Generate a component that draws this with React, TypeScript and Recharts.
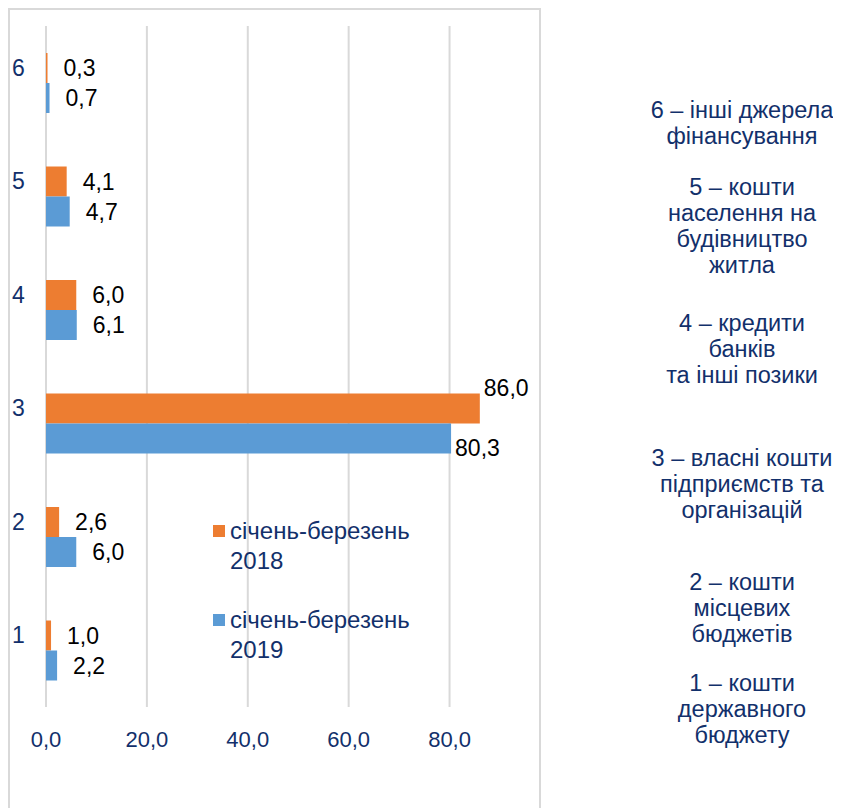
import React from 'react';
import { BarChart, Bar, XAxis, YAxis, CartesianGrid, LabelList } from 'recharts';

const categories = ['1', '2', '3', '4', '5', '6'];
const values2018 = [1.0, 2.6, 86.0, 6.0, 4.1, 0.3];
const values2019 = [2.2, 6.0, 80.3, 6.1, 4.7, 0.7];
const seriesNames = ['січень-березень 2018', 'січень-березень 2019'];
const xTicks = [0, 20, 40, 60, 80];
const descriptions = [
  ['6 – інші джерела', 'фінансування'],
  ['5 – кошти', 'населення на', 'будівництво', 'житла'],
  ['4 – кредити', 'банків', 'та інші позики'],
  ['3 – власні кошти', 'підприємств та', 'організацій'],
  ['2 – кошти', 'місцевих', 'бюджетів'],
  ['1 – кошти', 'державного', 'бюджету'],
];

const descTops = [89, 166, 302, 437, 561, 662];
const legendTops = [508, 597];

const NAVY = '#12306b';
const ORANGE = '#ED7D31';
const BLUE = '#5B9BD5';
const FONT = '"Liberation Sans", Arial, sans-serif';
const X_MAX = 90;

const data = categories.map((c, i) => ({
  cat: c,
  y2018: values2018[i],
  y2019: values2019[i],
}));

const fmt = (v: number) => v.toFixed(1).replace('.', ',');

const makeLabel = (series: 'a' | 'b') => (props: any) => {
  const { x, y, width, height, value } = props;
  const end = x + width;
  const cy = y + height / 2;
  let lx = end + 16;
  let ly = cy;
  if (value > 50) {
    lx = end + 4;
    ly = series === 'a' ? y - 6 : cy + 9;
  }
  return (
    <text x={lx} y={ly} fontSize={23} fill="#000" fontFamily={FONT} dominantBaseline="central" textAnchor="start">
      {fmt(value)}
    </text>
  );
};

const YTick = (props: any) => {
  const { y, payload } = props;
  return (
    <text x={4} y={y - 15} fontSize={23} fill={NAVY} fontFamily={FONT} dominantBaseline="central" textAnchor="start">
      {payload.value}
    </text>
  );
};

const gridGen = (args: any) => {
  const { offset } = args;
  return xTicks.map((t) => offset.left + (t / X_MAX) * offset.width);
};

export default function App() {
  const colors = [ORANGE, BLUE];
  return (
    <div style={{ position: 'relative', width: 833, height: 800, fontFamily: FONT }}>
      <div style={{ position: 'absolute', left: 0, top: 0, width: 533, height: 820, border: '2px solid #d9d9d9', boxSizing: 'border-box' }} />
      <div style={{ position: 'absolute', left: 0, top: 0 }}>
        <BarChart
          width={533}
          height={790}
          data={data}
          layout="vertical"
          margin={{ top: 18, right: 41, bottom: 31, left: 0 }}
          barGap={0}
          barCategoryGap="24%"
        >
          <CartesianGrid horizontal={false} vertical={true} stroke="#d9d9d9" strokeWidth={2} verticalCoordinatesGenerator={gridGen} />
          <XAxis
            type="number"
            domain={[0, X_MAX]}
            ticks={xTicks}
            tickFormatter={fmt}
            axisLine={false}
            tickLine={false}
            tickSize={6}
            tickMargin={18}
            height={60}
            tick={{ fontSize: 22, fill: NAVY, fontFamily: FONT }}
          />
          <YAxis
            type="category"
            dataKey="cat"
            reversed
            width={38}
            axisLine={false}
            tickLine={false}
            tick={<YTick />}
          />
          <Bar dataKey="y2018" name={seriesNames[0]} fill={ORANGE} barSize={30} isAnimationActive={false}>
            <LabelList dataKey="y2018" content={makeLabel('a')} />
          </Bar>
          <Bar dataKey="y2019" name={seriesNames[1]} fill={BLUE} barSize={30} isAnimationActive={false}>
            <LabelList dataKey="y2019" content={makeLabel('b')} />
          </Bar>
        </BarChart>
      </div>
      {seriesNames.map((n, i) => {
        const parts = n.split(' ');
        return (
          <div
            key={n}
            style={{ position: 'absolute', left: 205, top: legendTops[i], fontSize: 24, lineHeight: '30px', color: NAVY, fontFamily: FONT }}
          >
            <span style={{ position: 'absolute', left: 0, top: 9, width: 12, height: 12, background: colors[i] }} />
            <div style={{ paddingLeft: 17 }}>
              <div>{parts[0]}</div>
              <div>{parts[1]}</div>
            </div>
          </div>
        );
      })}
      {descriptions.map((lines, i) => (
        <div
          key={i}
          style={{
            position: 'absolute',
            left: 614,
            width: 240,
            top: descTops[i],
            textAlign: 'center',
            fontSize: 23.5,
            lineHeight: '26px',
            color: NAVY,
            fontFamily: FONT,
          }}
        >
          {lines.map((l) => (
            <div key={l}>{l}</div>
          ))}
        </div>
      ))}
    </div>
  );
}
